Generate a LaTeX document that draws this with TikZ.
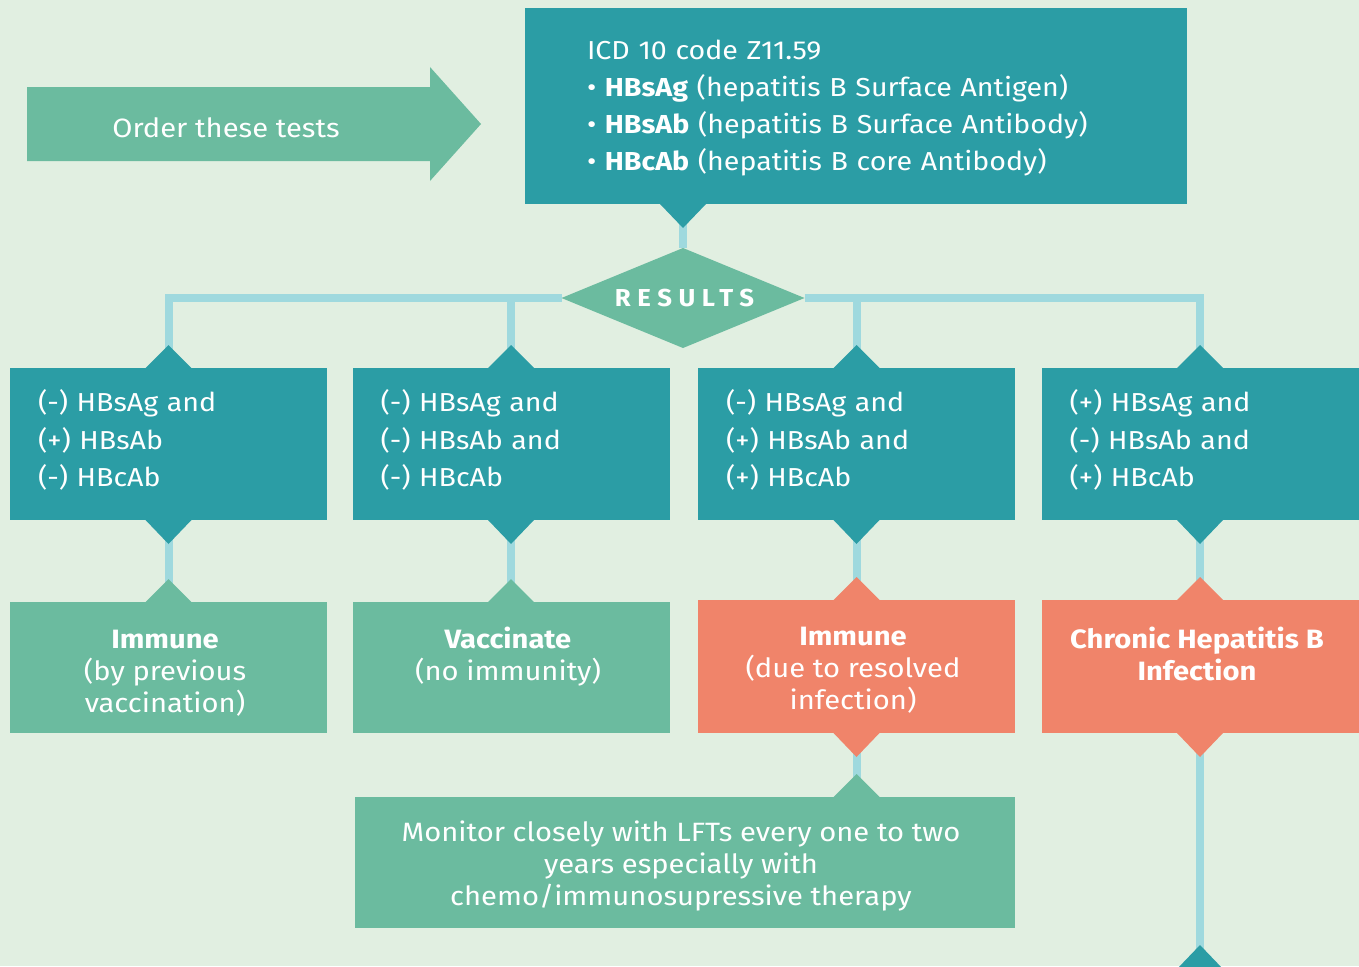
\documentclass[tikz,border=0pt]{standalone}
\usepackage{fontspec}
\setmainfont[FakeStretch=1.1]{Fira Sans}
\newfontfamily\spacedfont[LetterSpace=27,FakeStretch=1.05]{Fira Sans}
\usetikzlibrary{shapes.geometric}
\definecolor{bg}{HTML}{E1EFE1}
\definecolor{cteal}{HTML}{2B9DA5}
\definecolor{cgreen}{HTML}{6BBB9F}
\definecolor{corange}{HTML}{F0846A}
\definecolor{cline}{HTML}{9FD9DE}
\newcommand\tabup[2]{\fill[#2] (#1) ++(-23,0) -- ++(23,-23) -- ++(23,23) -- cycle;}
\newcommand\tabdn[2]{\fill[#2] (#1) ++(-23,0) -- ++(23,24) -- ++(23,-24) -- cycle;}
\begin{document}
\begin{tikzpicture}[x=1pt,y=-1pt,
  every node/.style={inner sep=0pt, outer sep=0pt, text=white},
  boxA/.style={fill=cteal, minimum width=317pt, minimum height=152pt},
  txtA/.style={text width=261pt, align=left, font=\fontsize{26}{37.5}\selectfont},
  boxB/.style={fill=#1, minimum width=317pt, minimum height=131pt},
  lbl/.style={align=center, anchor=north, font=\fontsize{26.5}{32}\selectfont},
  conn/.style={draw=cline, line width=8pt}]
\fill[bg] (0,0) rectangle (1359,966);
\useasboundingbox (0,0) rectangle (1359,966);
% arrow
\fill[cgreen] (27,87) -- (430,87) -- (430,67) -- (481,124) -- (430,181) -- (430,161) -- (27,161) -- cycle;
\node[font=\fontsize{26.5}{30}\selectfont] (ord) at (226,128) {Order these tests};
% top box
\node[fill=cteal, minimum width=662pt, minimum height=196pt] (top) at (856,106) {};
\node[text width=538pt, align=left, font=\fontsize{26}{37}\selectfont] (toptxt) at (856,108.5)
  {ICD 10 code Z11.59\\ • \textbf{HBsAg} (hepatitis B Surface Antigen)\\ • \textbf{HBsAb} (hepatitis B Surface Antibody)\\ • \textbf{HBcAb} (hepatitis B core Antibody)};
% results diamond
\node[diamond, fill=cgreen, minimum width=243pt, minimum height=100pt, aspect=2.43,
  font=\spacedfont\bfseries\fontsize{24.5}{26}\selectfont] (res) at (683,298) {\hspace*{3pt}RESULTS};
% row 1
\node[boxA] (b1) at (168.5,444) {};
\node[boxA] (b2) at (511,444) {};
\node[boxA] (b3) at (856.5,444) {};
\node[boxA] (b4) at (1200,444) {};
\node[txtA] (t1) at (168.5,440) {(-) HBsAg and\\(+) HBsAb\\(-) HBcAb};
\node[txtA] (t2) at (511,440) {(-) HBsAg and\\(-) HBsAb and\\(-) HBcAb};
\node[txtA] (t3) at (856.5,440) {(-) HBsAg and\\(+) HBsAb and\\(+) HBcAb};
\node[txtA] (t4) at (1200,440) {(+) HBsAg and\\(-) HBsAb and\\(+) HBcAb};
% row 2
\node[boxB=cgreen] (c1) at (168.5,667.5) {};
\node[boxB=cgreen] (c2) at (511,667.5) {};
\node[boxB=corange, minimum height=133pt] (c3) at (856.5,666.5) {};
\node[boxB=corange, minimum height=133pt] (c4) at (1200,666.5) {};
\node[fill=cgreen, minimum width=660pt, minimum height=131pt] (mon) at (685,862.5) {};
\coordinate (end) at (1200,966);
% connectors
\draw[conn] (res.north |- top.south) -- (res.north);
\draw[conn] (res.west) -| (b1.north);
\draw[conn] (res.east) -| (b4.north);
\draw[conn] (b2.north |- res.west) -- (b2.north);
\draw[conn] (b3.north |- res.east) -- (b3.north);
\draw[conn] (b1.south) -- (c1.north);
\draw[conn] (b2.south) -- (c2.north);
\draw[conn] (b3.south) -- (c3.north);
\draw[conn] (b4.south) -- (c4.north);
\draw[conn] (c3.south) -- (c3.south |- mon.north);
\draw[conn] (c4.south) -- (end);
% tabs
\tabdn{res.north |- top.south}{cteal}
\foreach \n in {b1,b2,b3,b4}{\tabup{\n.north}{cteal}\tabdn{\n.south}{cteal}}
\tabup{c1.north}{cgreen}\tabup{c2.north}{cgreen}
\tabup{c3.north}{corange}\tabup{c4.north}{corange}
\tabdn{c3.south}{corange}\tabdn{c4.south}{corange}
\tabup{c3.south |- mon.north}{cgreen}
\fill[cteal] (1177,969) -- (1200,945) -- (1223,969) -- cycle;
% labels
\node[lbl] (l1) at (165,630) {\textbf{Immune}\\(by previous\\vaccination)};
\node[lbl] (l2) at (508,627) {\textbf{Vaccinate}\\(no immunity)};
\node[lbl] (l3) at (853,627) {\textbf{Immune}\\(due to resolved\\infection)};
\node[lbl] (l4) at (1197,627) {\textbf{Chronic Hepatitis B}\\\textbf{Infection}};
\node[lbl, anchor=center] (l5) at (681,866) {Monitor closely with LFTs every one to two\\years especially with\\chemo/immunosupressive therapy};
\end{tikzpicture}
\end{document}
